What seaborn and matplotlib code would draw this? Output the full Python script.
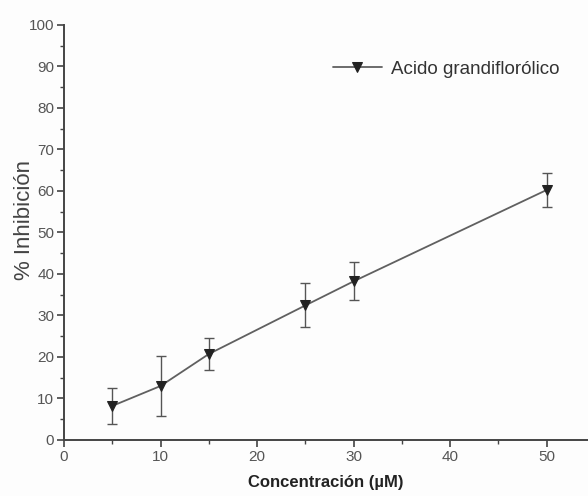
import matplotlib
matplotlib.use("Agg")
import matplotlib.pyplot as plt
import seaborn as sns
import pandas as pd
from matplotlib.ticker import MultipleLocator

# Concentration series and measured inhibition (mean ± SD)
concentracion = [5, 10, 15, 25, 30, 50]
inhibicion = [8.2, 13.0, 20.7, 32.4, 38.2, 60.2]
error = [4.3, 7.2, 3.8, 5.3, 4.6, 4.1]
serie = "Acido grandiflorólico"

df = pd.DataFrame({"x": concentracion, "y": inhibicion, "err": error})

sns.set_style("ticks")
plt.rcParams["font.family"] = ["Liberation Sans", "DejaVu Sans"]

fig = plt.figure(figsize=(5.88, 4.96), dpi=100)
fig.patch.set_facecolor("#fdfdfd")
ax = fig.add_axes([0.109, 0.113, 0.891, 0.837])
ax.set_facecolor("#fdfdfd")

ax.errorbar(df["x"], df["y"], yerr=df["err"], fmt="none", ecolor="#555555",
            elinewidth=1.0, capsize=3.5, capthick=1.0, zorder=2)
sns.lineplot(data=df, x="x", y="y", ax=ax, color="#606060", linewidth=1.3,
             marker="v", markersize=6.5, markerfacecolor="#222222",
             markeredgecolor="#222222", label=serie, zorder=3)

ax.set_xlim(0, 54.3)
ax.set_ylim(0, 100)
ax.xaxis.set_major_locator(MultipleLocator(10))
ax.xaxis.set_minor_locator(MultipleLocator(5))
ax.yaxis.set_major_locator(MultipleLocator(10))
ax.yaxis.set_minor_locator(MultipleLocator(5))

for side in ("top", "right"):
    ax.spines[side].set_visible(False)
for side in ("left", "bottom"):
    ax.spines[side].set_color("#444444")
    ax.spines[side].set_linewidth(1.4)

ax.tick_params(which="major", length=5, width=1.2, color="#444444",
               labelsize=11, labelcolor="#555555", pad=2)
ax.tick_params(which="minor", length=3, width=1.0, color="#444444")

ax.set_xlabel("Concentración (µM)", fontsize=12, fontweight="bold",
              color="#222222", labelpad=8)
ax.set_ylabel("% Inhibición", fontsize=16, color="#444444")
ax.yaxis.set_label_coords(-0.056, 0.53)

leg = ax.legend(loc="upper left", bbox_to_anchor=(0.513, 0.913), frameon=False,
                fontsize=13.5, handlelength=2.6, handletextpad=0.5,
                borderpad=0, borderaxespad=0)
for t in leg.get_texts():
    t.set_color("#333333")

fig.savefig("out.png", dpi=100, facecolor=fig.get_facecolor())
